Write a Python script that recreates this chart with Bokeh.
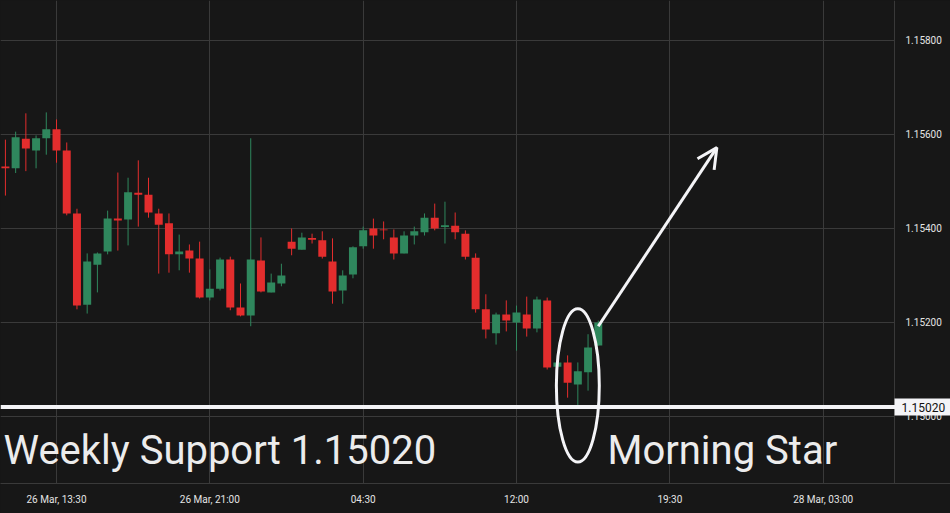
import pandas as pd
from bokeh.plotting import figure
from bokeh.models import (ColumnDataSource, Range1d, FixedTicker, PrintfTickFormatter,
                          Span, Label, BoxAnnotation, Arrow, OpenHead, GlobalInlineStyleSheet)
from bokeh.embed import file_html
from bokeh.resources import INLINE

# ---------------- data (EUR/USD, 30-minute candles) ----------------
candle_start = "2025-03-26 11:00"
candle_step = "30min"

opens = [1.15532, 1.15528, 1.15591, 1.15566, 1.15592, 1.15611, 1.15566, 1.15432, 1.15238, 1.15323,
         1.15351, 1.15421, 1.15419, 1.15476, 1.15472, 1.15432, 1.15411, 1.15345, 1.15353, 1.15336,
         1.15253, 1.15272, 1.15334, 1.15232, 1.15215, 1.15332, 1.15264, 1.15283, 1.15372, 1.15355,
         1.15380, 1.15375, 1.15330, 1.15268, 1.15302, 1.15362, 1.15400, 1.15398, 1.15381, 1.15347,
         1.15385, 1.15392, 1.15423, 1.15403, 1.15406, 1.15389, 1.15338, 1.15228, 1.15177, 1.15217,
         1.15200, 1.15217, 1.15187, 1.15247, 1.15106, 1.15115, 1.15068, 1.15094, 1.15151]
closes = [1.15528, 1.15594, 1.15570, 1.15592, 1.15611, 1.15566, 1.15432, 1.15236, 1.15330, 1.15347,
          1.15421, 1.15417, 1.15477, 1.15472, 1.15434, 1.15408, 1.15345, 1.15351, 1.15336, 1.15253,
          1.15272, 1.15334, 1.15232, 1.15215, 1.15334, 1.15266, 1.15285, 1.15300, 1.15357, 1.15381,
          1.15376, 1.15340, 1.15266, 1.15300, 1.15360, 1.15396, 1.15385, 1.15396, 1.15347, 1.15385,
          1.15394, 1.15423, 1.15400, 1.15407, 1.15392, 1.15340, 1.15228, 1.15185, 1.15217, 1.15204,
          1.15221, 1.15187, 1.15249, 1.15104, 1.15115, 1.15072, 1.15096, 1.15147, 1.15200]
highs = [1.15589, 1.15606, 1.15645, 1.15598, 1.15647, 1.15632, 1.15583, 1.15442, 1.15347, 1.15349,
         1.15438, 1.15519, 1.15508, 1.15545, 1.15508, 1.15442, 1.15432, 1.15387, 1.15366, 1.15372,
         1.15313, 1.15338, 1.15340, 1.15283, 1.15592, 1.15381, 1.15304, 1.15325, 1.15400, 1.15391,
         1.15389, 1.15394, 1.15379, 1.15311, 1.15362, 1.15404, 1.15421, 1.15415, 1.15398, 1.15394,
         1.15404, 1.15432, 1.15453, 1.15457, 1.15434, 1.15396, 1.15347, 1.15260, 1.15221, 1.15247,
         1.15236, 1.15255, 1.15255, 1.15253, 1.15115, 1.15130, 1.15115, 1.15175, 1.15204]
lows = [1.15470, 1.15518, 1.15522, 1.15528, 1.15557, 1.15540, 1.15428, 1.15228, 1.15219, 1.15264,
        1.15345, 1.15353, 1.15364, 1.15404, 1.15423, 1.15304, 1.15306, 1.15311, 1.15306, 1.15251,
        1.15247, 1.15268, 1.15226, 1.15213, 1.15192, 1.15264, 1.15264, 1.15277, 1.15343, 1.15355,
        1.15368, 1.15336, 1.15240, 1.15240, 1.15294, 1.15357, 1.15357, 1.15377, 1.15334, 1.15347,
        1.15366, 1.15385, 1.15396, 1.15368, 1.15377, 1.15334, 1.15221, 1.15166, 1.15153, 1.15181,
        1.15140, 1.15170, 1.15179, 1.15100, 1.15106, 1.15040, 1.15023, 1.15055, 1.15151]

x_tick_times = ["2025-03-26 13:30", "2025-03-26 21:00", "2025-03-27 04:30",
                "2025-03-27 12:00", "2025-03-27 19:30", "2025-03-28 03:00"]
x_tick_labels = ["26 Mar, 13:30", "26 Mar, 21:00", "04:30", "12:00", "19:30", "28 Mar, 03:00"]
y_ticks = [1.150, 1.152, 1.154, 1.156, 1.158]

support_level = 1.15020
support_text = "Weekly Support 1.15020"
pattern_text = "Morning Star"
pattern_candle = 56          # candle the ellipse is centred on
arrow_from_candle = 58

# ---------------- styles ----------------
BG = "#171717"
GRID = "#3a3a3a"
UP = "#2f875d"
DOWN = "#e32d2d"
WHITE = "#f4f4f7"
TICK_TXT = "#e4e4e4"
FONT = "Roboto"

t0 = pd.Timestamp("2025-03-26 00:00")
times = pd.date_range(candle_start, periods=len(opens), freq=candle_step)
xm = [(t - t0) / pd.Timedelta(minutes=1) for t in times]
x_tick_vals = [int((pd.Timestamp(s) - t0) / pd.Timedelta(minutes=1)) for s in x_tick_times]

colors = [UP if c >= o else DOWN for o, c in zip(opens, closes)]
src = ColumnDataSource(dict(
    x=xm, h=highs, l=lows,
    top=[max(o, c) for o, c in zip(opens, closes)],
    bottom=[min(o, c) for o, c in zip(opens, closes)],
    color=colors))

# view: the price scale strip (last 56 px) is inside the frame
x_start, x_scale_edge, x_end = 645.6, 3269.4, 3433.7
y_start, y_end = 1.148574, 1.158851

p = figure(width=950, height=513,
           x_range=Range1d(x_start, x_end), y_range=Range1d(y_start, y_end),
           y_axis_location="right", output_backend="svg", toolbar_location=None,
           background_fill_color=BG, border_fill_color=BG, outline_line_color=None,
           min_border_left=0, min_border_top=0, min_border_right=0, min_border_bottom=30)
p.stylesheets = [GlobalInlineStyleSheet(css=f"body {{ background: {BG}; }}")]

p.xgrid.grid_line_color = GRID
p.ygrid.grid_line_color = GRID
p.xgrid.grid_line_width = 1
p.ygrid.grid_line_width = 1

# price-scale strip background (hides grid lines there) and its separator line
p.add_layout(BoxAnnotation(left=x_scale_edge, fill_color=BG, fill_alpha=1.0,
                           line_color=None, level="underlay"))
p.add_layout(Span(location=x_scale_edge, dimension="height", line_color=GRID,
                  line_width=1, level="underlay"))

# candles
p.segment(x0="x", y0="h", x1="x", y1="l", line_color="color", line_width=1, source=src)
p.vbar(x="x", width=23.4, top="top", bottom="bottom", fill_color="color",
       line_color=None, source=src)

# axes
p.xaxis.ticker = FixedTicker(ticks=x_tick_vals)
p.xaxis.major_label_overrides = {v: s for v, s in zip(x_tick_vals, x_tick_labels)}
p.yaxis.ticker = FixedTicker(ticks=y_ticks)
p.yaxis.formatter = PrintfTickFormatter(format="%.5f")
for ax in (p.xaxis[0], p.yaxis[0]):
    ax.axis_line_color = GRID
    ax.axis_line_width = 1
    ax.major_tick_line_color = None
    ax.minor_tick_line_color = None
    ax.major_tick_out = 0
    ax.major_tick_in = 0
    ax.minor_tick_out = 0
    ax.major_label_text_color = TICK_TXT
    ax.major_label_text_font = FONT
    ax.major_label_text_font_size = "10px"
p.yaxis.axis_line_color = None
p.xaxis.major_label_standoff = 10
p.yaxis.major_label_standoff = -45   # labels sit in the price strip

# support line + price tag
p.add_layout(Span(location=support_level, dimension="width", line_color=WHITE, line_width=4))
p.add_layout(Label(x=x_scale_edge, y=support_level, text=f"{support_level:.5f}",
                   text_align="left", text_baseline="middle", text_color="#111111",
                   text_font=FONT, text_font_size="12px", background_fill_color=WHITE,
                   padding=dict(left=7, right=9, top=4, bottom=4)))

# pattern ellipse
p.ellipse(x=[xm[pattern_candle]], y=[1.15066], width=[126], height=[0.00326],
          fill_color=None, line_color=WHITE, line_width=3)

# arrow
p.add_layout(Arrow(end=OpenHead(line_color=WHITE, line_width=3, size=20),
                   x_start=xm[arrow_from_candle], y_start=closes[arrow_from_candle] - 0.00008,
                   x_end=2748, y_end=1.15572, line_color=WHITE, line_width=3))

# texts
p.add_layout(Label(x=654.4, y=1.149277, text=support_text, text_align="left",
                   text_baseline="middle", text_color="#ececec", text_font=FONT,
                   text_font_size="40px"))
p.add_layout(Label(x=2427, y=1.149277, text=pattern_text, text_align="left",
                   text_baseline="middle", text_color="#ececec", text_font=FONT,
                   text_font_size="40px"))

open("out.html", "w").write(file_html(p, INLINE))
